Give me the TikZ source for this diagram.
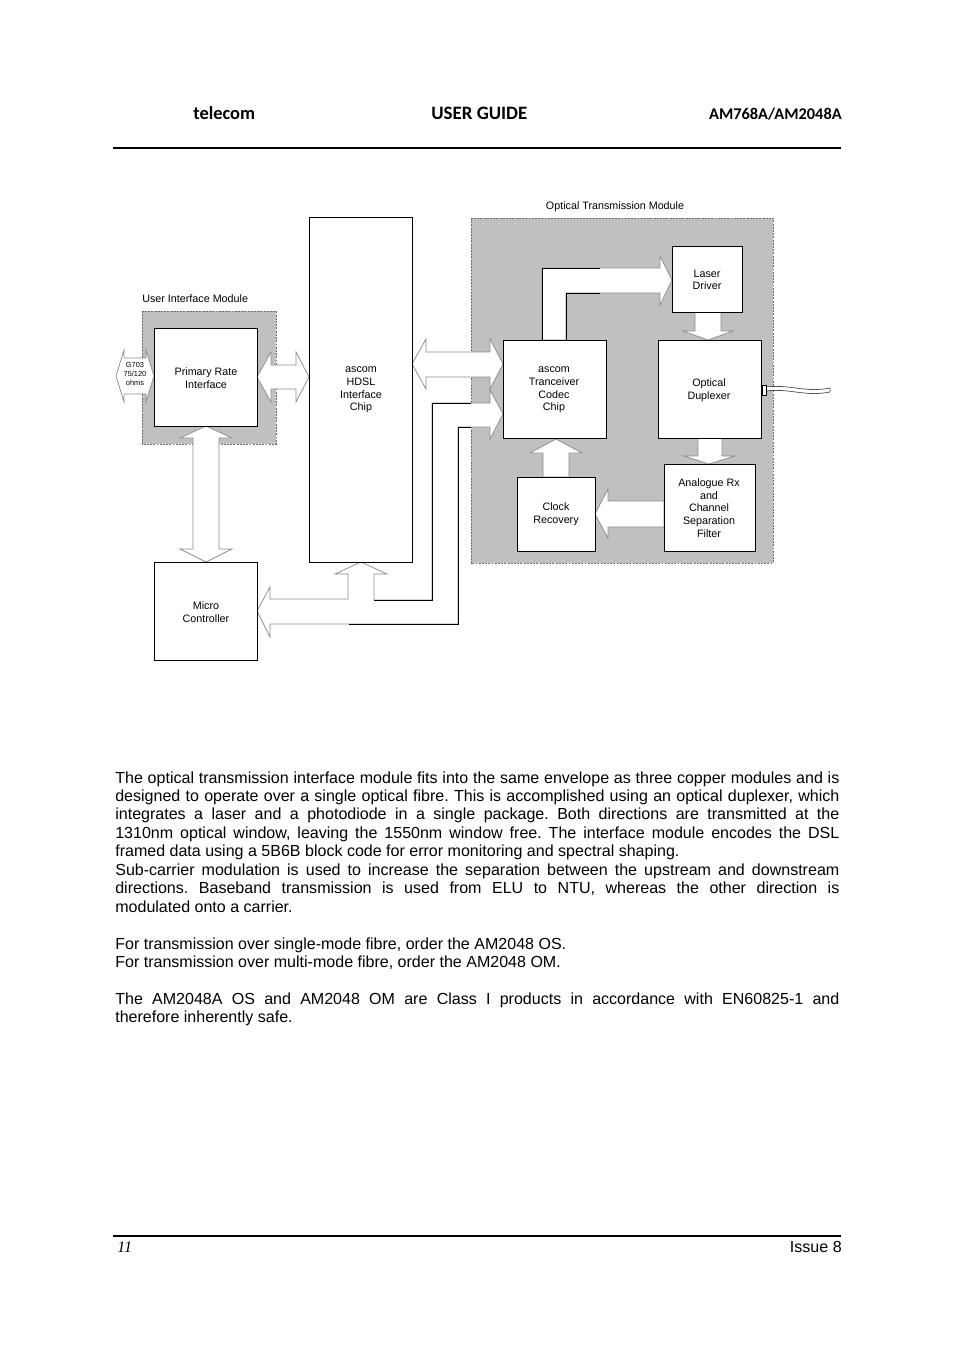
\documentclass[tikz,border=0pt]{standalone}
\usepackage{fontspec}
\setmainfont{Liberation Sans}
\newfontfamily\hdrfont{Carlito}
\newfontfamily\serfont{Liberation Serif}
\definecolor{modgray}{HTML}{C0C0C0}
\definecolor{arrgray}{HTML}{8C8C8C}
\definecolor{dashgray}{HTML}{6E6E6E}
\definecolor{cablegray}{HTML}{505050}
\tikzset{
 modbox/.style={fill=modgray, draw=dashgray, line width=0.4pt, dash pattern=on 1.2pt off 0.8pt},
 blkbox/.style={fill=white, draw=black, line width=0.6pt},
 barrow/.style={fill=white, draw=arrgray, line width=0.45pt, line join=miter},
 wire/.style={draw=black, line width=0.6pt},
 lbl/.style={font=\fontsize{6.7}{7.9}\selectfont, align=center, inner sep=0},
 tiny/.style={font=\fontsize{4.6}{5.4}\selectfont, align=center, inner sep=0},
 body/.style={anchor=base west, inner sep=0, text width=451.6pt, align=justify,
   font=\fontsize{10}{11.5}\selectfont},
}
\begin{document}
\begin{tikzpicture}[x=0.6237pt, y=-0.6237pt]
\useasboundingbox (0,0) rectangle (954,1350);
\fill[white] (0,0) rectangle (954,1350);

% ---------- header ----------
\node[anchor=base west, inner sep=0, font=\hdrfont\bfseries\fontsize{11.5}{13}\selectfont] (hl) at (193,120) {telecom};
\node[anchor=base west, inner sep=0, font=\hdrfont\bfseries\fontsize{11.8}{13}\selectfont] (hc) at (431,120) {USER GUIDE};
\node[anchor=base east, inner sep=0, font=\hdrfont\bfseries\fontsize{10.2}{12}\selectfont] (hr) at (842,120) {AM768A/AM2048A};
\draw[line width=1.3pt] (113,148) -- (841,148);

% ---------- modules ----------
\draw[modbox] (142,311) rectangle (276,444);
\draw[modbox] (471,218) rectangle (773,563);
\node[lbl, anchor=west] (uimlbl) at (142,298.5) {User Interface Module};
\node[lbl] (otmlbl) at (615,206.5) {Optical Transmission Module};

% ---------- block arrows ----------
% G703
\draw[barrow] (116,376) -- (124,350) -- (124,358) -- (146,358) -- (146,350) -- (154,376)
  -- (146,402) -- (146,394) -- (124,394) -- (124,402) -- cycle;
% PRI <-> HDSL
\draw[barrow] (257,377) -- (271,352) -- (271,365) -- (296,365) -- (296,352) -- (309,377)
  -- (296,402) -- (296,389) -- (271,389) -- (271,402) -- cycle;
% HDSL <-> Tranceiver
\draw[barrow] (412,364) -- (426,339) -- (426,352) -- (490,352) -- (490,339) -- (503,364)
  -- (490,389) -- (490,377) -- (426,377) -- (426,389) -- cycle;
% PRI <-> Micro
\draw[barrow] (206,426) -- (232,438) -- (219,438) -- (219,549) -- (232,549) -- (206,562)
  -- (180,549) -- (193,549) -- (193,438) -- (180,438) -- cycle;
% bus Micro / HDSL / Tranceiver
\draw[barrow] (374,574) -- (374,600) -- (432,600) -- (432,403) -- (490,403) -- (490,390)
  -- (503,414) -- (490,439) -- (490,427) -- (458,427) -- (458,624) -- (270,624)
  -- (270,637) -- (257,611) -- (270,587) -- (270,599) -- (348,599) -- (348,574)
  -- (335,574) -- (361,562) -- (387,574) -- cycle;
% Tranceiver -> Laser
\draw[barrow] (542,340) -- (542,268) -- (660,268) -- (660,256) -- (672,280) -- (660,305)
  -- (660,293) -- (566,293) -- (566,340) -- cycle;
% Laser -> Duplexer
\draw[barrow] (695,312) -- (695,331) -- (683,331) -- (708,340) -- (733,331) -- (721,331) -- (721,312) -- cycle;
% Duplexer -> Analogue
\draw[barrow] (698,438) -- (698,456) -- (684,456) -- (709,464) -- (735,456) -- (722,456) -- (722,438) -- cycle;
% Clock -> Tranceiver
\draw[barrow] (543,477) -- (543,453) -- (530,453) -- (556,439) -- (582,453) -- (569,453) -- (569,477) -- cycle;
% Analogue -> Clock
\draw[barrow] (664,501) -- (608,501) -- (608,489) -- (595,514) -- (608,538) -- (608,527) -- (664,527) -- cycle;

% ---------- black wires over arrows ----------
\draw[wire] (374,600) -- (432,600) -- (432,403) -- (471,403);
\draw[wire] (471,427) -- (458,427) -- (458,624) -- (349,624);
\draw[wire] (542,340) -- (542,268) -- (600,268);
\draw[wire] (566,340) -- (566,293) -- (600,293);

% ---------- boxes ----------
\draw[blkbox] (154,328) rectangle (257,426);
\node[lbl] (pri) at (206,378) {Primary Rate\\Interface};
\draw[blkbox] (309,217) rectangle (412,562);
\node[lbl] (hdsl) at (361,390) {ascom\\HDSL\\Interface\\Chip};
\draw[blkbox] (503,340) rectangle (606,438);
\node[lbl] (trx) at (554,390) {ascom\\Tranceiver\\Codec\\Chip};
\draw[blkbox] (672,246) rectangle (742,312);
\node[lbl] (laser) at (707,280) {Laser\\Driver};
\draw[blkbox] (658,340) rectangle (761,438);
\node[lbl] (dup) at (709,390) {Optical\\Duplexer};
\draw[blkbox] (664,464) rectangle (755,551);
\node[lbl] (anrx) at (709,508) {Analogue Rx\\and\\Channel\\Separation\\Filter};
\draw[blkbox] (517,477) rectangle (595,551);
\node[lbl] (clk) at (556,514) {Clock\\Recovery};
\draw[blkbox] (154,562) rectangle (257,660);
\node[lbl] (mc) at (206,612) {Micro\\Controller};

\node[tiny] (g703) at (135,374) {G703\\75/120\\ohms};

% ---------- fibre ----------
\draw[fill=white, draw=cablegray, line width=0.45pt] (766,387) .. controls (790,384) and (805,393) .. (830,388)
  -- (830,392) .. controls (805,397) and (790,388) .. (766,391) -- cycle;
\draw[blkbox, line width=0.5pt] (762,385) rectangle (766,395);

% ---------- body text ----------
\node[body] (p1) at (115,783) {\frenchspacing\hyphenpenalty=10000 \exhyphenpenalty=10000
The optical transmission interface module fits into the same envelope as three copper modules and is\linebreak
designed to operate over a single optical fibre. This is accomplished using an optical duplexer, which\linebreak
integrates a laser and a photodiode in a single package. Both directions are transmitted at the\linebreak
1310nm optical window, leaving the 1550nm window free. The interface module encodes the DSL\linebreak
framed data using a 5B6B block code for error monitoring and spectral shaping.\par
Sub-carrier modulation is used to increase the separation between the upstream and downstream\linebreak
directions. Baseband transmission is used from ELU to NTU, whereas the other direction is\linebreak
modulated onto a carrier.};
\node[body] (p2) at (115,949) {\frenchspacing\hyphenpenalty=10000 \exhyphenpenalty=10000
For transmission over single-mode fibre, order the AM2048 OS.\par
For transmission over multi-mode fibre, order the AM2048 OM.};
\node[body] (p3) at (115,1004) {\frenchspacing\hyphenpenalty=10000 \exhyphenpenalty=10000
The AM2048A OS and AM2048 OM are Class I products in accordance with EN60825-1 and\linebreak
therefore inherently safe.};

% ---------- footer ----------
\draw[line width=1.8pt] (113,1236) -- (841,1236);
\node[anchor=base west, inner sep=0, font=\serfont\itshape\fontsize{10}{12}\selectfont] (pg) at (117,1252) {11};
\node[anchor=base east, inner sep=0, font=\fontsize{10}{12}\selectfont] (iss) at (842,1252) {Issue 8};
\end{tikzpicture}
\end{document}
